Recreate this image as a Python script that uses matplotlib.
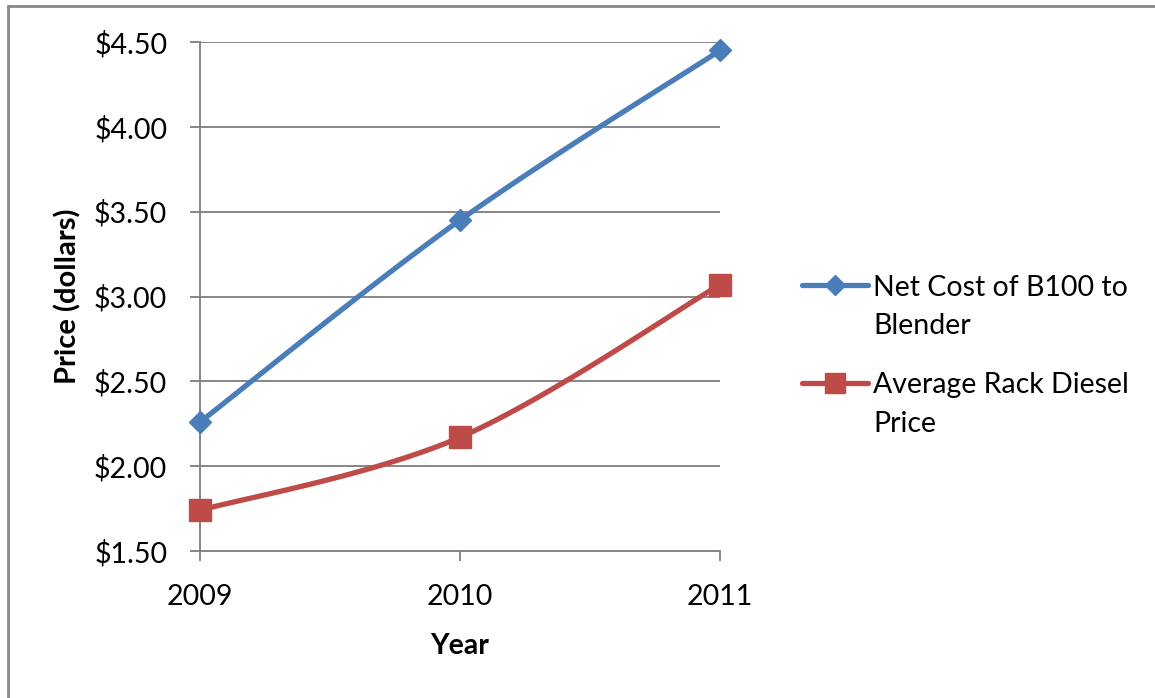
import numpy as np
import matplotlib
matplotlib.use("Agg")
import matplotlib.pyplot as plt
from matplotlib.lines import Line2D
from matplotlib.patches import Rectangle

years = [2009, 2010, 2011]
net_cost_b100 = [2.26, 3.45, 4.45]
rack_diesel = [1.74, 2.17, 3.07]
series_names = ["Net Cost of B100 to\nBlender", "Average Rack Diesel\nPrice"]
y_ticks = [1.50, 2.00, 2.50, 3.00, 3.50, 4.00, 4.50]

BLUE = "#4A7EBB"
RED = "#BE4B48"
GRID = "#868686"
FONT = "Lato"


def smooth(xs, ys, n=40):
    """Catmull-Rom style Bezier smoothing (like Excel's smoothed line)."""
    xs = np.asarray(xs, float)
    ys = np.asarray(ys, float)
    px = np.concatenate([[xs[0]], xs, [xs[-1]]])
    py = np.concatenate([[ys[0]], ys, [ys[-1]]])
    outx, outy = [], []
    t = np.linspace(0, 1, n)
    for i in range(1, len(px) - 2):
        p0 = np.array([px[i], py[i]])
        p3 = np.array([px[i + 1], py[i + 1]])
        c1 = p0 + (np.array([px[i + 1], py[i + 1]]) - np.array([px[i - 1], py[i - 1]])) / 6
        c2 = p3 - (np.array([px[i + 2], py[i + 2]]) - np.array([px[i], py[i]])) / 6
        b = ((1 - t) ** 3)[:, None] * p0 + (3 * (1 - t) ** 2 * t)[:, None] * c1 \
            + (3 * (1 - t) * t ** 2)[:, None] * c2 + (t ** 3)[:, None] * p3
        outx.extend(b[:, 0])
        outy.extend(b[:, 1])
    return outx, outy


W, H = 1155, 698
fig = plt.figure(figsize=(W / 100, H / 100), dpi=100)
ax = fig.add_axes([200 / W, 1 - 551 / H, 520 / W, 509 / H])

x_idx = np.arange(len(years))
for vals, col, mk, ms in [(net_cost_b100, BLUE, "D", 11), (rack_diesel, RED, "s", 15.5)]:
    sx, sy = smooth(x_idx, vals)
    ax.plot(sx, sy, color=col, lw=3.8, solid_capstyle="round", zorder=3, clip_on=False)
    ax.plot(x_idx, vals, linestyle="none", marker=mk, markersize=ms, color=col,
            markeredgecolor=col, zorder=4, clip_on=False)

ax.set_xlim(0, len(years) - 1)
ax.set_ylim(y_ticks[0], y_ticks[-1])
ax.set_yticks(y_ticks)
ax.set_yticklabels([f"${v:.2f}" for v in y_ticks])
ax.set_xticks(x_idx)
ax.set_xticklabels([str(y) for y in years])
ax.yaxis.grid(True, color=GRID, lw=1.4)
ax.set_axisbelow(True)
for s in ["top", "right"]:
    ax.spines[s].set_visible(False)
for s in ["left", "bottom"]:
    ax.spines[s].set_color(GRID)
    ax.spines[s].set_linewidth(1.4)
ax.tick_params(axis="both", direction="out", length=7, width=1.4, color=GRID,
               labelsize=20.5)
ax.tick_params(axis="y", pad=16.5)
ax.tick_params(axis="x", pad=17)
for lab in ax.get_xticklabels() + ax.get_yticklabels():
    lab.set_fontfamily(FONT)

ax.set_ylabel("Price (dollars)", fontsize=21, fontweight="bold", fontfamily=FONT, labelpad=9)
ax.set_xlabel("Year", fontsize=20.5, fontweight="bold", fontfamily=FONT, labelpad=16)

# legend drawn manually (Excel style: handle aligned with first line)
leg = [(BLUE, "D", 10, 285), (RED, "s", 14, 383)]
for (col, mk, ms, ypx), name in zip(leg, series_names):
    yf = 1 - ypx / H
    fig.add_artist(Line2D([802 / W, 868 / W], [yf, yf], color=col, lw=3.8,
                          solid_capstyle="round"))
    fig.add_artist(Line2D([835 / W], [yf], marker=mk, markersize=ms, color=col,
                          markeredgecolor=col, linestyle="none"))
    fig.text(873 / W, 1 - ypx / H, name.split("\n")[0], fontsize=20.5, fontfamily=FONT,
             va="center_baseline", ha="left")
    fig.text(873 / W, 1 - (ypx + 39) / H, name.split("\n")[1], fontsize=20.5,
             fontfamily=FONT, va="center_baseline", ha="left")

# outer chart border (left/top visible)
fig.add_artist(Rectangle((8 / W, -0.05), 1.2, 1 - 6 / H + 0.05, transform=fig.transFigure,
                         fill=False, edgecolor="#888888", lw=2))

fig.savefig("out.png", dpi=100, facecolor="white")
